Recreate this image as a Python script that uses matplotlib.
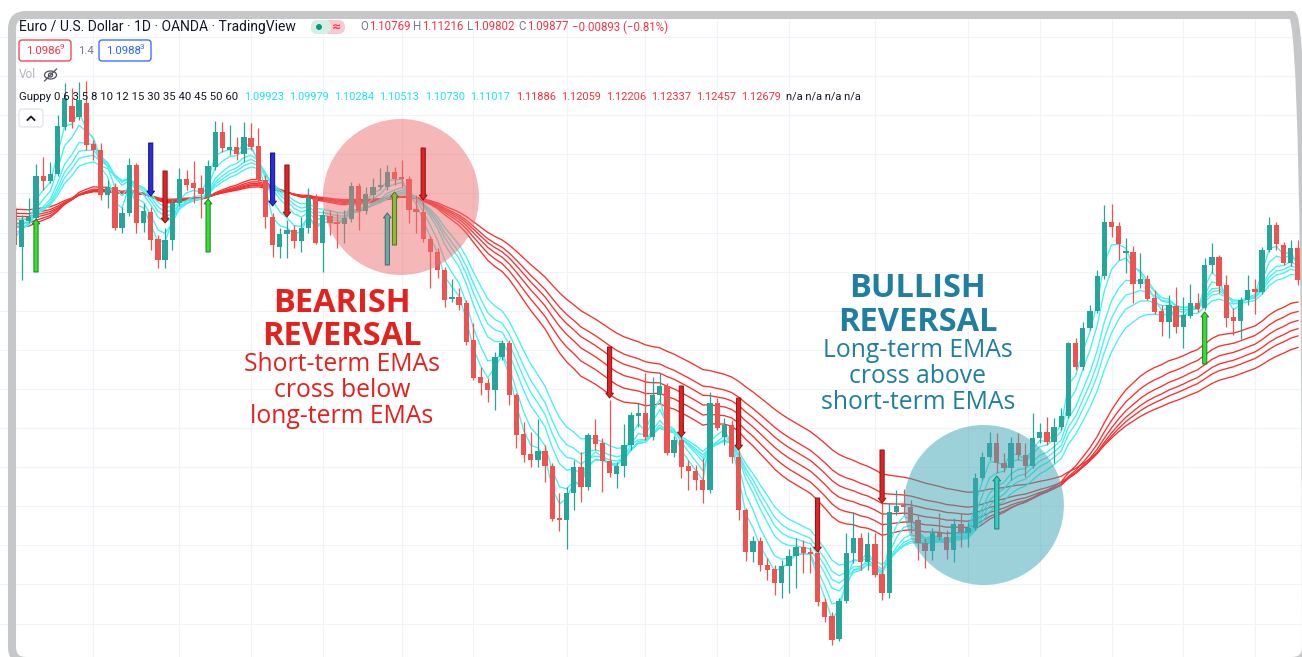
import numpy as np
import matplotlib
matplotlib.use("Agg")
import matplotlib.pyplot as plt
from matplotlib.patches import FancyBboxPatch, Ellipse, FancyArrowPatch, Rectangle, Circle
from matplotlib.lines import Line2D

W, H = 1302, 657

# ---- EUR/USD daily candles, prices in pips (price * 10000) ----
opens = [
    10890, 10853, 10879, 10882, 10924, 10919, 10926, 10973, 10994, 10983,
    10997, 10956, 10950, 10905, 10913, 10872, 10887, 10935, 10877, 10888,
    10861, 10840, 10860, 10897, 10921, 10917, 10912, 10903, 10933, 10968,
    10950, 10953, 10946, 10962, 10954, 10920, 10883, 10853, 10866, 10870,
    10859, 10872, 10902, 10857, 10884, 10878, 10876, 10881, 10914, 10889,
    10905, 10913, 10913, 10928, 10922, 10921, 10891, 10888, 10861, 10848,
    10830, 10801, 10803, 10797, 10760, 10723, 10717, 10710, 10743, 10757,
    10705, 10666, 10646, 10640, 10649, 10634, 10582, 10580, 10607, 10633,
    10613, 10665, 10657, 10639, 10626, 10634, 10655, 10684, 10687, 10663,
    10705, 10714, 10647, 10660, 10634, 10629, 10620, 10610, 10697, 10663,
    10675, 10643, 10590, 10548, 10559, 10535, 10531, 10517, 10534, 10544,
    10553, 10548, 10547, 10498, 10484, 10461, 10499, 10547, 10562, 10538,
    10556, 10526, 10507, 10588, 10594, 10593, 10580, 10557, 10549, 10567,
    10563, 10550, 10576, 10567, 10572, 10622, 10643, 10657, 10637, 10632,
    10657, 10645, 10634, 10662, 10668, 10658, 10673, 10684, 10757, 10733,
    10772, 10789, 10824, 10878, 10874, 10847, 10848, 10816, 10821, 10802,
    10789, 10778, 10794, 10773, 10784, 10797, 10792, 10835, 10843, 10815,
    10783, 10779, 10800, 10811, 10808, 10850, 10875, 10855, 10837, 10852,
]
highs = [
    10895, 10885, 10902, 10936, 10943, 10938, 10985, 11017, 11012, 11018,
    11019, 10960, 10957, 10920, 10917, 10893, 10942, 10937, 10897, 10893,
    10865, 10872, 10902, 10932, 10930, 10939, 10925, 10940, 10979, 10978,
    10975, 10963, 10978, 10977, 10972, 10925, 10887, 10872, 10880, 10875,
    10883, 10912, 10906, 10890, 10890, 10887, 10890, 10918, 10917, 10913,
    10922, 10932, 10935, 10933, 10940, 10924, 10905, 10900, 10864, 10852,
    10833, 10821, 10812, 10800, 10777, 10733, 10722, 10748, 10760, 10760,
    10707, 10678, 10668, 10681, 10655, 10637, 10607, 10613, 10640, 10648,
    10667, 10681, 10662, 10700, 10638, 10676, 10688, 10697, 10727, 10723,
    10727, 10717, 10664, 10664, 10640, 10635, 10642, 10708, 10702, 10682,
    10680, 10650, 10592, 10564, 10563, 10542, 10535, 10540, 10551, 10562,
    10560, 10553, 10550, 10502, 10488, 10502, 10567, 10588, 10567, 10568,
    10567, 10597, 10597, 10610, 10611, 10600, 10585, 10562, 10572, 10587,
    10570, 10582, 10587, 10578, 10627, 10648, 10668, 10667, 10647, 10663,
    10667, 10657, 10687, 10677, 10683, 10682, 10692, 10758, 10762, 10778,
    10795, 10830, 10895, 10896, 10878, 10862, 10854, 10847, 10825, 10810,
    10795, 10805, 10813, 10803, 10816, 10807, 10842, 10857, 10845, 10825,
    10792, 10803, 10825, 10821, 10853, 10883, 10878, 10858, 10860, 10860,
]
lows = [
    10850, 10820, 10877, 10878, 10910, 10917, 10924, 10970, 10972, 10980,
    10950, 10940, 10900, 10892, 10870, 10867, 10884, 10867, 10868, 10850,
    10832, 10832, 10850, 10894, 10910, 10897, 10882, 10901, 10930, 10948,
    10945, 10940, 10938, 10950, 10915, 10872, 10843, 10842, 10842, 10852,
    10848, 10867, 10856, 10828, 10865, 10852, 10857, 10878, 10870, 10886,
    10900, 10910, 10910, 10915, 10913, 10877, 10867, 10858, 10812, 10822,
    10793, 10798, 10790, 10755, 10720, 10705, 10698, 10690, 10740, 10695,
    10652, 10638, 10633, 10633, 10618, 10579, 10569, 10551, 10590, 10598,
    10610, 10650, 10608, 10623, 10612, 10623, 10650, 10673, 10660, 10660,
    10697, 10645, 10643, 10622, 10610, 10610, 10597, 10607, 10670, 10655,
    10637, 10580, 10539, 10538, 10529, 10520, 10505, 10502, 10507, 10512,
    10527, 10527, 10494, 10478, 10455, 10459, 10497, 10537, 10530, 10530,
    10523, 10500, 10502, 10585, 10585, 10567, 10540, 10532, 10540, 10560,
    10541, 10538, 10553, 10553, 10570, 10620, 10640, 10627, 10628, 10620,
    10640, 10623, 10632, 10657, 10655, 10637, 10670, 10682, 10730, 10730,
    10770, 10787, 10821, 10863, 10840, 10827, 10797, 10812, 10800, 10786,
    10764, 10762, 10767, 10752, 10782, 10788, 10790, 10827, 10807, 10773,
    10765, 10761, 10795, 10786, 10806, 10848, 10850, 10835, 10834, 10815,
]
closes = [
    10855, 10880, 10883, 10924, 10919, 10926, 10974, 11002, 10978, 11000,
    10955, 10950, 10905, 10913, 10872, 10887, 10935, 10877, 10889, 10860,
    10840, 10860, 10897, 10921, 10915, 10912, 10906, 10934, 10968, 10952,
    10953, 10946, 10963, 10953, 10920, 10883, 10855, 10866, 10870, 10859,
    10872, 10902, 10857, 10885, 10877, 10876, 10882, 10914, 10889, 10906,
    10913, 10915, 10928, 10921, 10921, 10890, 10888, 10861, 10848, 10830,
    10800, 10803, 10795, 10758, 10722, 10717, 10710, 10743, 10757, 10705,
    10665, 10645, 10640, 10649, 10634, 10581, 10580, 10607, 10633, 10613,
    10665, 10656, 10639, 10627, 10634, 10655, 10685, 10687, 10663, 10705,
    10714, 10647, 10660, 10633, 10629, 10620, 10610, 10697, 10672, 10675,
    10643, 10590, 10548, 10559, 10535, 10530, 10517, 10534, 10544, 10553,
    10547, 10546, 10498, 10483, 10460, 10499, 10547, 10562, 10538, 10556,
    10525, 10507, 10588, 10594, 10593, 10578, 10557, 10549, 10567, 10563,
    10550, 10576, 10567, 10572, 10622, 10643, 10657, 10637, 10632, 10657,
    10645, 10634, 10662, 10668, 10658, 10673, 10684, 10757, 10733, 10772,
    10789, 10824, 10878, 10873, 10856, 10848, 10816, 10821, 10801, 10788,
    10778, 10795, 10773, 10785, 10797, 10791, 10835, 10843, 10814, 10782,
    10779, 10800, 10810, 10808, 10850, 10875, 10856, 10837, 10852, 10820,
]

# Guppy EMA periods and their values on the first bar (pips)
short_periods = [3, 5, 8, 10, 12, 15]
short_seed = [10868, 10872, 10876, 10879, 10881, 10884]
long_periods = [30, 35, 40, 45, 50, 60]
long_seed = [10874, 10878, 10882, 10885, 10888, 10892]

# signal arrows: bar, from, to (pips), colour
arrow_bars = [3, 19, 21, 27, 36, 38, 52, 53, 57, 83, 93, 101, 112, 121, 137, 166]
arrow_from = [10828, 10957, 10929, 10848, 10947, 10935, 10835, 10855, 10952,
              10753, 10714, 10702, 10602, 10650, 10571, 10736]
arrow_to = [10881, 10904, 10877, 10901, 10894, 10883, 10887, 10908, 10900,
            10702, 10663, 10650, 10548, 10597, 10624, 10788]
arrow_kind = ["g", "b", "r", "g", "b", "r", "t", "o", "r",
              "r", "r", "r", "r", "r", "c", "g"]

# date grid (bar index of each vertical grid line)
grid_bars = [11, 23, 33, 43, 54, 64, 77, 88, 98, 108, 120, 133, 143, 153, 163, 173]

# legend texts
guppy_short_vals = ["1.09923", "1.09979", "1.10284", "1.10513", "1.10730", "1.11017"]
guppy_long_vals = ["1.11886", "1.12059", "1.12206", "1.12337", "1.12457", "1.12679"]

o = np.array(opens) / 1e4
hi = np.array(highs) / 1e4
lo = np.array(lows) / 1e4
c = np.array(closes) / 1e4
n = len(c)
idx = np.arange(n)


def ema(vals, period, seed):
    a = 2.0 / (period + 1)
    out = np.empty(len(vals))
    prev = seed
    for k, v in enumerate(vals):
        prev = a * v + (1 - a) * prev
        out[k] = prev
    return out


# layout: bar 0 sits 14.5 px from the left, 7.17 px per bar, 1 px per pip
BAR_PX = 7.17
X0 = 14.5
TOP = 1.1100


def px2price(y):
    return TOP - y / 1e4


fig = plt.figure(figsize=(W / 100, H / 100), dpi=100)
fig.patch.set_facecolor("white")
ax = fig.add_axes([0, 0, 1, 1])
ax.set_xlim(-X0 / BAR_PX, (W - X0) / BAR_PX)
ax.set_ylim(px2price(H), px2price(0))
ax.axis("off")

# grid
for gy in np.arange(px2price(37), px2price(H), -0.00391):
    ax.axhline(gy, color="#f0f3fa", lw=0.8, zorder=0)
ax.vlines(grid_bars, px2price(H), px2price(19), color="#f0f3fa", lw=0.8, zorder=0)

# EMAs
for p, s in zip(long_periods, long_seed):
    ax.plot(idx, ema(c, p, s / 1e4), color="#f73030", lw=0.95, zorder=1.5)
for p, s in zip(short_periods, short_seed):
    ax.plot(idx, ema(c, p, s / 1e4), color="#45f2f2", lw=0.95, zorder=1.6)

# candles
up = c >= o
cols = np.where(up, "#26a69a", "#ef5350")
ax.vlines(idx, lo, hi, colors=cols, lw=0.9, zorder=2)
body_h = np.maximum(np.abs(c - o), 0.00018)
ax.bar(idx, body_h, bottom=np.minimum(o, c), width=0.74, color=cols, lw=0, zorder=2.1)

# highlight circles
ax.add_patch(Ellipse((53.9, px2price(197)), 156 / BAR_PX, 0.0156,
                     fc=(236 / 255, 112 / 255, 112 / 255, 0.5), ec="none", zorder=3))
ax.add_patch(Ellipse((135.2, px2price(505)), 160 / BAR_PX, 0.0160,
                     fc=(60 / 255, 165 / 255, 180 / 255, 0.5), ec="none", zorder=3))

# arrows
arrow_col = {"g": ("#33e033", "#1b7d1b"), "b": ("#2a2ae0", "#14147a"),
             "r": ("#e32222", "#8a1111"), "t": ("#6fa6a6", "#3d6b6b"),
             "o": ("#8cbb38", "#52701c"), "c": ("#33cfc0", "#1e7d74")}
for b, y0, y1, k in zip(arrow_bars, arrow_from, arrow_to, arrow_kind):
    fc, ec = arrow_col[k]
    ar = FancyArrowPatch((b, y0 / 1e4), (b, y1 / 1e4),
                         arrowstyle="simple,head_length=3.5,head_width=5.5,tail_width=3",
                         mutation_scale=1, fc=fc, ec=ec, lw=0.7,
                         shrinkA=0, shrinkB=0, zorder=4)
    ax.add_patch(ar)


def ft(x, y, s, **kw):
    return fig.text(x / W, 1 - y / H, s, **kw)


# annotations
red_t = "#e5211d"
blue_t = "#1f7fa2"
big = dict(family="Open Sans", weight="bold", fontsize=23.5, ha="center", va="baseline")
small = dict(family="Open Sans", fontsize=17.8, ha="center", va="baseline")
ft(342, 312, "BEARISH", color=red_t, **big)
ft(342, 345, "REVERSAL", color=red_t, **big)
ft(342, 371, "Short-term EMAs", color=red_t, **small)
ft(342, 397, "cross below", color=red_t, **small)
ft(342, 423, "long-term EMAs", color=red_t, **small)
ft(918, 297, "BULLISH", color=blue_t, **big)
ft(918, 331, "REVERSAL", color=blue_t, **big)
ft(918, 357, "Long-term EMAs", color=blue_t, **small)
ft(918, 383, "cross above", color=blue_t, **small)
ft(918, 409, "short-term EMAs", color=blue_t, **small)

# TradingView legend
dark = "#131722"
gray = "#787b86"
tvred = "#f23645"
lf = "Roboto"
ft(19, 27, "Euro / U.S. Dollar \u00b7 1D \u00b7 OANDA \u00b7 TradingView",
   color=dark, fontsize=10, family=lf, va="center")
fig.add_artist(FancyBboxPatch((311, H - 34), 34, 14, boxstyle="round,pad=0,rounding_size=7",
                              transform=None, fc="#f9c8d1", ec="none"))
fig.add_artist(FancyBboxPatch((311, H - 34), 20, 14, boxstyle="round,pad=0,rounding_size=7",
                              transform=None, fc="#d3f0e3", ec="none"))
fig.add_artist(Rectangle((324, H - 34), 4, 14, transform=None, fc="#d3f0e3", ec="none"))
fig.add_artist(Circle((319, H - 27), 3, transform=None, fc="#089981", ec="none"))
ft(337, 27, "\u2248", color=tvred, fontsize=8, weight="bold", ha="center", va="center",
   family="DejaVu Sans")
ohlc = [("O", 360, gray), ("1.10769", 369, tvred), ("H", 413, gray), ("1.11216", 422, tvred),
        ("L", 467, gray), ("1.09802", 473, tvred), ("C", 518, gray), ("1.09877", 527, tvred),
        ("\u22120.00893 (\u22120.81%)", 572, tvred)]
for s, x, col in ohlc:
    ft(x, 27, s, color=col, fontsize=8.3, family=lf, va="center")

fig.add_artist(FancyBboxPatch((19, H - 61), 52, 21, boxstyle="round,pad=0,rounding_size=3",
                              transform=None, fc="white", ec=tvred, lw=0.9))
ft(26, 51, "1.0986", color=tvred, fontsize=8.2, family=lf, va="center")
ft(60, 47, "9", color=tvred, fontsize=5.8, family=lf, va="center")
ft(78, 51, "1.4", color=gray, fontsize=8.2, family=lf, va="center")
fig.add_artist(FancyBboxPatch((99, H - 61), 52, 21, boxstyle="round,pad=0,rounding_size=3",
                              transform=None, fc="white", ec="#2962ff", lw=0.9))
ft(106, 51, "1.0988", color="#2962ff", fontsize=8.2, family=lf, va="center")
ft(140, 47, "3", color="#2962ff", fontsize=5.8, family=lf, va="center")

ft(19, 75, "Vol", color="#b2b5be", fontsize=8.6, family=lf, va="center")
fig.add_artist(Ellipse((50.5, H - 75), 12, 8, transform=None, fc="none", ec="#50535e", lw=0.9))
fig.add_artist(Circle((50.5, H - 75), 2, transform=None, fc="none", ec="#50535e", lw=0.9))
fig.add_artist(Line2D([44.5, 56.5], [H - 81, H - 69], transform=None, color="#50535e", lw=0.9))

ft(19, 97, "Guppy 0 6 3 5 8 10 12 15 30 35 40 45 50 60", color=dark, fontsize=8.2,
   family=lf, va="center")
for k, s in enumerate(guppy_short_vals):
    ft(244 + 45.2 * k, 97, s, color="#1fe3f0", fontsize=7.9, family=lf, va="center")
for k, s in enumerate(guppy_long_vals):
    ft(516 + 45.0 * k, 97, s, color="#f5333b", fontsize=7.9, family=lf, va="center")
ft(786, 97, "n/a n/a n/a n/a", color=dark, fontsize=7.9, family=lf, va="center")

fig.add_artist(FancyBboxPatch((19, H - 127), 24, 18, boxstyle="round,pad=0,rounding_size=3",
                              transform=None, fc="white", ec="#e0e3eb", lw=0.9))
fig.add_artist(Line2D([27.5, 31, 34.5], [H - 120, H - 116.5, H - 120], transform=None,
                      color=dark, lw=1.3))

# screenshot frame
fig.add_artist(FancyBboxPatch((12, -4), 1294, H - 15 + 4,
                              boxstyle="round,pad=0,rounding_size=14",
                              transform=None, fc="none", ec="#c6c7c9", lw=5.8, zorder=10))

fig.savefig("out.png", dpi=100, facecolor="white")
